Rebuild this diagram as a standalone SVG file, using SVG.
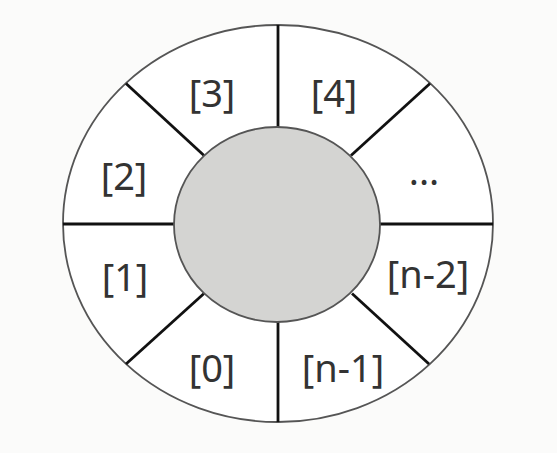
<svg xmlns="http://www.w3.org/2000/svg" width="557" height="453" viewBox="0 0 557 453">
  <style>
    .ring { fill: #ffffff; stroke: #555555; stroke-width: 1.8; }
    .hub { fill: #d4d4d2; stroke: #555555; stroke-width: 1.8; }
    .div { stroke: #111111; stroke-width: 2.8; fill: none; }
    .lbl { font-family: "Noto Sans", "Open Sans", "Liberation Sans", sans-serif; font-size: 38px; fill: #333333; text-anchor: middle; }
  </style>
  <rect width="557" height="453" fill="#fbfbfa"/>
  <g id="outer-ring">
    <ellipse class="ring" cx="278" cy="223.5" rx="215" ry="198.5"/>
  </g>
  <g id="connectors">
    <line class="div" x1="278" y1="25" x2="278" y2="127"/>
    <line class="div" x1="278" y1="322" x2="278" y2="422"/>
    <line class="div" x1="63" y1="224" x2="174" y2="224"/>
    <line class="div" x1="380" y1="224" x2="493" y2="224"/>
    <line class="div" x1="126" y1="83.5" x2="204" y2="155.5"/>
    <line class="div" x1="430" y1="83.5" x2="351" y2="155.5"/>
    <line class="div" x1="126" y1="364" x2="204" y2="293.5"/>
    <line class="div" x1="429" y1="364" x2="352" y2="293.5"/>
  </g>
  <g id="hub">
    <ellipse class="hub" cx="277" cy="224.5" rx="103" ry="97.5"/>
  </g>
  <g id="slot-3"><text class="lbl" x="212" y="107">[3]</text></g>
  <g id="slot-4"><text class="lbl" x="334" y="107">[4]</text></g>
  <g id="slot-dots"><text class="lbl" x="424" y="185">...</text></g>
  <g id="slot-n-2"><text class="lbl" x="428" y="288">[n-2]</text></g>
  <g id="slot-n-1"><text class="lbl" x="343" y="382">[n-1]</text></g>
  <g id="slot-0"><text class="lbl" x="212" y="382">[0]</text></g>
  <g id="slot-1"><text class="lbl" x="125" y="291">[1]</text></g>
  <g id="slot-2"><text class="lbl" x="124" y="190">[2]</text></g>
</svg>
